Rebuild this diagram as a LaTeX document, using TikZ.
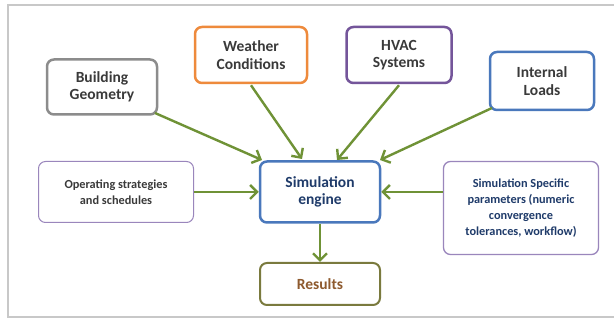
\documentclass[tikz,border=0pt]{standalone}
\usepackage{fontspec}
\setmainfont{Carlito}
\usetikzlibrary{arrows.meta}
\definecolor{frame}{HTML}{C8C8C8}
\definecolor{geo}{HTML}{8C8C8C}
\definecolor{orng}{HTML}{EE8A3C}
\definecolor{purp}{HTML}{74559A}
\definecolor{blu}{HTML}{4A78BC}
\definecolor{lpurp}{HTML}{9A86BC}
\definecolor{olive}{HTML}{7A7A3E}
\definecolor{grn}{HTML}{6F9236}
\definecolor{txt}{HTML}{3A3A3A}
\definecolor{navy}{HTML}{1F3B6A}
\definecolor{brwn}{HTML}{8E5A2E}
\tikzset{
  box/.style={draw, rounded corners=7pt, align=center, font=\bfseries\fontsize{15.5}{17.5}\selectfont, text=txt, inner sep=0pt},
  smallbox/.style={box, font=\bfseries\fontsize{12.3}{16}\selectfont, line width=1pt},
  arr/.style={draw=grn, line width=2.4pt, -{Straight Barb[length=7pt,width=14pt,line width=2.4pt]}},
}
\begin{document}
\begin{tikzpicture}[x=1pt,y=-1pt]
\useasboundingbox (0,0) rectangle (614,320);
\fill[white] (0,0) rectangle (614,320);
\draw[frame, line width=1.5pt] (616,5) -- (8,5) -- (8,317) -- (616,317);
\node[box, draw=geo, line width=2.5pt, minimum width=110pt, minimum height=55pt] (geo) at (102,87) {Building\\Geometry};
\node[box, draw=orng, line width=2.5pt, minimum width=112pt, minimum height=56pt] (wea) at (251,55) {Weather\\Conditions};
\node[box, draw=purp, line width=2.5pt, minimum width=105pt, minimum height=56pt] (hvac) at (399,55) {HVAC\\Systems};
\node[box, draw=blu, line width=2.5pt, minimum width=104pt, minimum height=58pt] (load) at (542,81) {Internal\\Loads};
\node[smallbox, draw=lpurp, minimum width=155pt, minimum height=61pt] (ops) at (116,192) {Operating strategies\\and schedules};
\node[box, draw=blu, line width=2.5pt, minimum width=120pt, minimum height=61pt, text=navy] (eng) at (320,192) {Simulation\\engine};
\node[smallbox, draw=lpurp, line width=1.3pt, minimum width=155pt, minimum height=93pt, text=navy] (spec) at (521,208) {Simulation Specific\\parameters (numeric\\convergence\\tolerances, workflow)};
\node[box, draw=olive, line width=2pt, minimum width=120pt, minimum height=42pt, text=brwn] (res) at (320,284) {Results};
\coordinate (e1) at (262,160);
\coordinate (e2) at (302,159);
\coordinate (e3) at (337,160);
\coordinate (e4) at (380,160);
\draw[arr] (155,113) -- (e1);
\draw[arr] (wea.south) ++(0,1) -- (e2);
\draw[arr] (hvac.south) ++(0,1) -- (e3);
\draw[arr] (492,108) -- (e4);
\draw[arr] (ops.east) -- (eng.west);
\draw[arr] (spec.west |- eng.east) -- (eng.east);
\draw[arr] (eng.south) -- (res.north);
\end{tikzpicture}
\end{document}
